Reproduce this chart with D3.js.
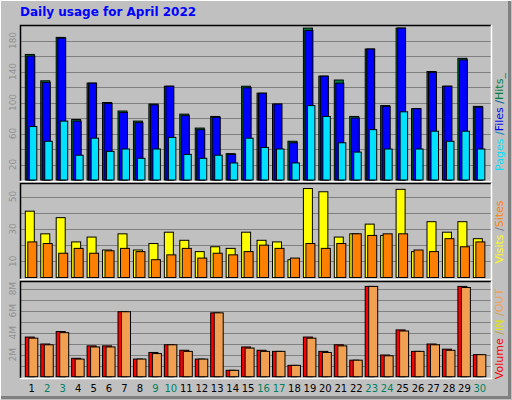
<!DOCTYPE html><html><head><script src="https://cdn.jsdelivr.net/npm/d3@7"></script>
<style>body{margin:0}</style></head><body><svg id="c" width="512" height="400"></svg>
<script>
const days=d3.range(1,31);
const weekend=[2,3,9,10,16,17,23,24,30];
const hits=[162,128,184,78,125,100,89,76,98,121,85,67,82,34,121,112,98,50,196,134,129,82,169,96,196,92,140,121,157,95];
const files=[160,126,183,76,125,99,87,74,97,121,83,65,81,33,119,112,98,48,193,134,125,80,169,95,196,92,139,121,155,94];
const pages=[69,50,76,32,54,37,40,28,40,55,33,28,32,22,54,42,40,22,96,82,48,36,65,40,88,40,63,50,63,40];
const visits=[41,27,37,22,25,17,27,17,21,28,23,16,19,18,28,23,22,11,55,53,25,27,33,26,54.5,16,34.5,28,34.5,24];
const sites=[22,21,15,18,15,16.5,18,16,11,14,18,12,15,14,16,20,18,12,21,18,21,27,26,27,27,17,16,24,19,22];
const volIn=[3.6,2.97,4.1,1.67,2.8,2.8,5.9,1.6,2.2,2.9,2.4,1.6,5.8,0.58,2.7,2.4,2.3,1.03,3.6,2.3,2.9,1.5,8.2,1.97,4.25,2.3,2.97,2.5,8.2,2.0];
const volOut=[3.5,2.9,4.0,1.6,2.7,2.7,5.9,1.6,2.1,2.9,2.3,1.6,5.8,0.58,2.6,2.3,2.3,1.03,3.5,2.2,2.8,1.5,8.2,1.9,4.15,2.3,2.9,2.4,8.1,2.0];
const ticksTop=[20,60,100,140,180], ticksMid=[10,30,50], ticksBot=[2,4,6,8];

const svg=d3.select("#c");
svg.append("rect").attr("width",512).attr("height",400).attr("fill","#c0c0c0");
svg.append("path").attr("d","M0.5,399.5V0.5H511.5").attr("stroke","#fff").attr("fill","none");
svg.append("path").attr("d","M1,397.5H509.5V1").attr("stroke","#808080").attr("stroke-width",3).attr("fill","none");
svg.append("text").attr("x",20).attr("y",16).text("Daily usage for April 2022").attr("font-family","DejaVu Sans").attr("font-weight","bold").attr("font-size",12).attr("fill","#0000ff");
const L=20,R=491;
svg.append("rect").attr("x",L).attr("y",25).attr("width",R-L).attr("height",353).attr("fill","#c0c0c0");
const x=d3.scaleLinear().domain([1,31]).range([25.3,25.3+15.45*30]);
const panels=[{t:25,b:180,max:200,ticks:ticksTop,step:20,fmt:d=>d},{t:184,b:277.5,max:57.8,ticks:ticksMid,step:10,fmt:d=>d},{t:282,b:376.7,max:8.6,ticks:ticksBot,step:1,fmt:d=>d+"M"}];
panels.forEach(p=>{
  p.y=d3.scaleLinear().domain([0,p.max]).range([p.b,p.t]);
  const g=svg.append("g");
  d3.range(p.step,p.max,p.step).forEach(v=>g.append("line").attr("x1",L).attr("x2",R).attr("y1",Math.round(p.y(v))+.5).attr("y2",Math.round(p.y(v))+.5).attr("stroke","#808080"));
  p.ticks.forEach(v=>g.append("text").attr("transform",`translate(16,${p.y(v)}) rotate(-90)`).attr("text-anchor","middle").text(p.fmt(v)).attr("font-family","DejaVu Sans").attr("font-size",9).attr("fill","#909090"));
});
[[25,181],[183,279],[281,378]].forEach(([t,b])=>{
  svg.append("path").attr("d",`M${L}.5,${b}V${t}.5H${R}`).attr("stroke","#000").attr("fill","none").attr("stroke-width",1.5);
  svg.append("path").attr("d",`M${L},${b}.5H${R}.5V${t}`).attr("stroke","#fff").attr("fill","none").attr("stroke-width",1.5);
});
function bars(data,y,off,w,fill,stroke){
  svg.append("g").selectAll("rect").data(data).join("rect")
   .attr("x",(d,i)=>x(i+1)+off).attr("width",w)
   .attr("y",d=>y(d)).attr("height",d=>y(0)-y(d))
   .attr("fill",fill).attr("stroke",stroke||"#000").attr("stroke-width",1);
}
const [P1,P2,P3]=panels;
bars(hits,P1.y,0,9,"#008040");
bars(files,P1.y,1.5,8,"#0000ff");
bars(pages,P1.y,4,7.5,"#00e0ff");
bars(visits,P2.y,0,9,"#ffff00");
bars(sites,P2.y,2.5,9,"#ff8000");
bars(volIn,P3.y,0,9,"#ff0000");
bars(volOut,P3.y,3.5,9,"#f0a050");
svg.append("g").selectAll("text").data(days).join("text")
 .attr("x",d=>x(d)+6.5).attr("y",392).attr("text-anchor","middle").text(d=>d)
 .attr("font-family","DejaVu Sans").attr("font-size",10)
 .attr("fill",d=>weekend.includes(d)?"#008060":"#000");
function side(cy,parts){
  const t=svg.append("text").attr("transform",`translate(503,${cy}) rotate(-90)`).attr("text-anchor","middle").attr("font-family","DejaVu Sans").attr("font-size",11);
  parts.forEach(([s,c])=>t.append("tspan").text(s).attr("fill",c));
}
side(122,[["Pages","#00e0ff"],[" /","#0080c0"],["Files","#0000ff"],[" /","#0060a0"],["Hits","#008040"],["_","#008040"]]);
side(232,[["Visits","#ffff00"],[" /","#808080"],["Sites","#ff8000"]]);
side(334,[["Volume","#ff0000"],[" /","#c0a040"],["IN","#e0e000"],[" /","#d0a060"],["OUT","#f0a050"]]);
</script></body></html>
